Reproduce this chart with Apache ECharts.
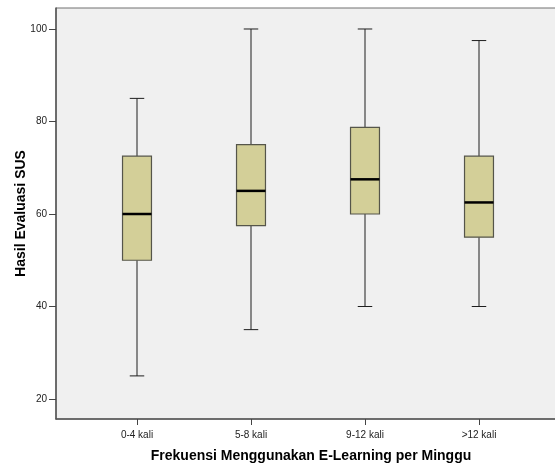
<!DOCTYPE html>
<html lang="id">
<head>
<meta charset="UTF-8">
<title>Hasil Evaluasi SUS</title>
<script src="https://cdn.jsdelivr.net/npm/echarts@6/dist/echarts.min.js"></script>
<style>
    html, body { margin: 0; padding: 0; background: #fff; }
    #chart { width: 555px; height: 466px; }
</style>
</head>
<body>
<div id="chart"></div>
<script>
    // data: min, q1, median, q3, max per group
    const categories = ['0-4 kali', '5-8 kali', '9-12 kali', '>12 kali'];
    const whiskerLow = [25, 35, 40, 40];
    const q1 = [50, 57.5, 60, 55];
    const median = [60, 65, 67.5, 62.5];
    const q3 = [72.5, 75, 78.75, 72.5];
    const whiskerHigh = [85, 100, 100, 97.5];
    const yTicks = [20, 40, 60, 80, 100];

    const yMin = 15.68, yMax = 104.54;
    const font = 'Liberation Sans, Arial, sans-serif';

    const boxData = categories.map((c, i) => [i, whiskerLow[i], q1[i], median[i], q3[i], whiskerHigh[i]]);

    function renderBox(params, api) {
        const i = api.value(0);
        const band = api.size([1, 0])[0];
        const boxW = band * 0.254;
        const capW = boxW / 2;
        const pLow = api.coord([i, api.value(1)]);
        const pQ1 = api.coord([i, api.value(2)]);
        const pMed = api.coord([i, api.value(3)]);
        const pQ3 = api.coord([i, api.value(4)]);
        const pHigh = api.coord([i, api.value(5)]);
        const x = pMed[0];
        const line = { stroke: '#1e1e1e', lineWidth: 1 };
        return {
            type: 'group',
            children: [
                { type: 'line', shape: { x1: x, y1: pHigh[1], x2: x, y2: pQ3[1] }, style: line },
                { type: 'line', shape: { x1: x, y1: pQ1[1], x2: x, y2: pLow[1] }, style: line },
                { type: 'line', shape: { x1: x - capW / 2, y1: pHigh[1], x2: x + capW / 2, y2: pHigh[1] }, style: line },
                { type: 'line', shape: { x1: x - capW / 2, y1: pLow[1], x2: x + capW / 2, y2: pLow[1] }, style: line },
                { type: 'rect', shape: { x: x - boxW / 2, y: pQ3[1], width: boxW, height: pQ1[1] - pQ3[1] },
                  style: { fill: '#d3cf98', stroke: '#55554a', lineWidth: 1.2 } },
                { type: 'line', shape: { x1: x - boxW / 2, y1: pMed[1], x2: x + boxW / 2, y2: pMed[1] },
                  style: { stroke: '#000', lineWidth: 2.5 } }
            ]
        };
    }

    const chart = echarts.init(document.getElementById('chart'));
    chart.setOption({
        animation: false,
        textStyle: { fontFamily: font },
        grid: [
            // frame runs past the right edge of the picture, as in the reference
            { left: 56, top: 8, width: 510, height: 411, show: true, outerBoundsMode: 'none',
              backgroundColor: '#f0f0f0', borderColor: '#707070', borderWidth: 1 },
            { left: 80, top: 8, width: 456, height: 411, outerBoundsMode: 'none' }
        ],
        xAxis: [
            {
                gridIndex: 0, type: 'value', min: 0, max: 1,
                axisLine: { show: true, lineStyle: { color: '#555', width: 1.5 } },
                axisTick: { show: false }, axisLabel: { show: false }, splitLine: { show: false },
                name: 'Frekuensi Menggunakan E-Learning per Minggu',
                nameLocation: 'middle', nameGap: 30,
                nameTextStyle: { fontSize: 14, fontWeight: 'bold', color: '#000', fontFamily: font }
            },
            {
                gridIndex: 1, type: 'category', data: categories,
                axisLine: { show: false },
                axisTick: { show: true, alignWithLabel: true, length: 6, lineStyle: { color: '#444' } },
                axisLabel: { fontSize: 10, color: '#222', margin: 11 },
                splitLine: { show: false }
            }
        ],
        yAxis: [
            {
                gridIndex: 0, type: 'value', min: yMin, max: yMax,
                axisLine: { show: true, lineStyle: { color: '#555', width: 1.5 } },
                axisTick: { show: true, length: 7, customValues: yTicks, lineStyle: { color: '#444' } },
                axisLabel: { fontSize: 10, color: '#222', margin: 9, customValues: yTicks },
                splitLine: { show: false },
                name: 'Hasil Evaluasi SUS',
                nameLocation: 'middle', nameGap: 28, nameMoveOverlap: false,
                nameTextStyle: { fontSize: 14, fontWeight: 'bold', color: '#000', fontFamily: font }
            },
            {
                gridIndex: 1, type: 'value', min: yMin, max: yMax, show: false
            }
        ],
        series: [{
            type: 'custom',
            xAxisIndex: 1,
            yAxisIndex: 1,
            renderItem: renderBox,
            encode: { x: 0, y: [1, 2, 3, 4, 5] },
            data: boxData
        }]
    });
</script>
</body>
</html>
